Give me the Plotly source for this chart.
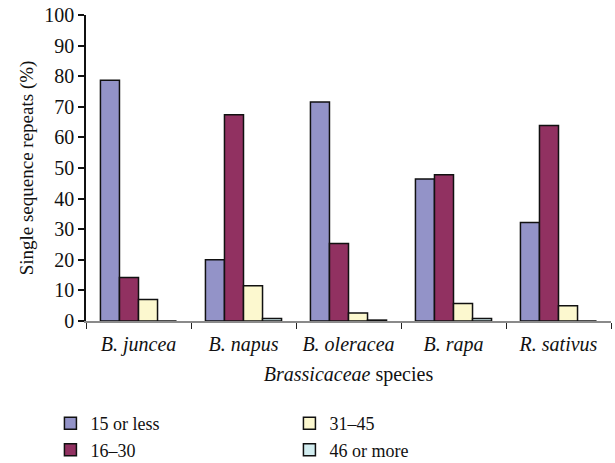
import plotly.graph_objects as go

species = ["B. juncea", "B. napus", "B. oleracea", "B. rapa", "R. sativus"]
species_labels = ["<i>%s</i>" % s for s in species]

len_15_or_less = [78.7, 20.0, 71.6, 46.4, 32.2]
len_16_30 = [14.2, 67.4, 25.3, 47.8, 63.9]
len_31_45 = [7.0, 11.5, 2.6, 5.7, 5.0]
len_46_or_more = [0.0, 0.8, 0.3, 0.8, 0.0]

series = [
    ("15 or less", len_15_or_less, "#9393C8", 1),
    ("16\u201330", len_16_30, "#913161", 3),
    ("31\u201345", len_31_45, "#FCF8CF", 2),
    ("46 or more", len_46_or_more, "#D2EDF0", 4),
]

FONT = "Liberation Serif"
SIZE = 20

fig = go.Figure()
for name, vals, color, rank in series:
    fig.add_trace(go.Bar(
        x=species_labels, y=vals, name=name, legendrank=rank,
        marker=dict(color=color, line=dict(color="#111111", width=1.5)),
    ))

fig.update_layout(
    width=615, height=463,
    margin=dict(l=86, r=4, t=11, b=142),
    paper_bgcolor="white", plot_bgcolor="white",
    barmode="group", bargap=0.275, bargroupgap=0,
    font=dict(family=FONT, size=SIZE, color="#111111"),
    showlegend=True,
    legend=dict(
        orientation="h", xref="container", yref="container",
        x=0.082, y=0.125, xanchor="left", yanchor="top",
        entrywidth=194, entrywidthmode="pixels",
        font=dict(family=FONT, size=18, color="#111111"),
        tracegroupgap=0, itemwidth=30,
    ),
)

fig.update_xaxes(
    range=[-0.5, 4.5], tickson="boundaries", ticks="outside", ticklen=6,
    tickcolor="#222222", tickwidth=1.3,
    showline=True, linecolor="#8a8a8a", linewidth=1.5, showgrid=False,
    ticklabelstandoff=4,
    tickfont=dict(family=FONT, size=SIZE),
    title=dict(text="<i>Brassicaceae</i> species", font=dict(family=FONT, size=SIZE), standoff=12),
)
fig.update_yaxes(
    range=[0, 100], dtick=10, ticks="outside", ticklen=6,
    tickcolor="#111111", tickwidth=1.5,
    showline=True, linecolor="#111111", linewidth=1.5, showgrid=False,
    zeroline=False,
    tickfont=dict(family=FONT, size=SIZE),
    title=dict(text="Single sequence repeats (%)", font=dict(family=FONT, size=SIZE - 1), standoff=6),
)

fig.write_html("out.html")
